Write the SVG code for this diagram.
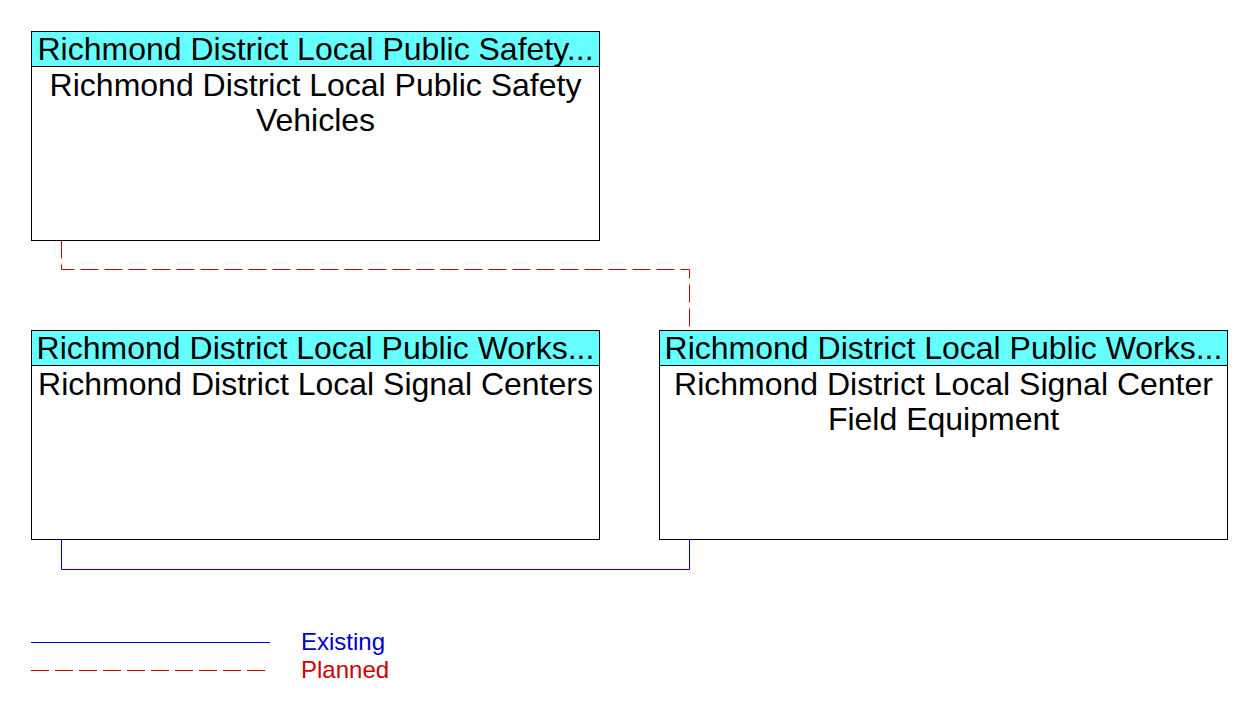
<svg xmlns="http://www.w3.org/2000/svg" width="1252" height="716" viewBox="0 0 1252 716">
<style>
.box{fill:#fff;stroke:#000;stroke-width:1}
.hdr{fill:#66ffff;stroke:#000;stroke-width:1}
.t{font-family:"Liberation Sans",Arial,sans-serif;font-size:32px;fill:#000;text-anchor:middle}
.planned{fill:none;stroke:#cc0000;stroke-width:1;stroke-dasharray:18,6}
.existing{fill:none;stroke:#0000cc;stroke-width:1}
.lg{font-family:"Liberation Sans",Arial,sans-serif;font-size:24px}
</style>
<rect width="1252" height="716" fill="#fff"/>
<g id="connectors">
<polyline class="planned" points="61.5,240.5 61.5,269.5 689.5,269.5 689.5,330.5"/>
<polyline class="existing" points="61.5,539.5 61.5,569.5 689.5,569.5 689.5,539.5"/>
</g>
<g id="node-safety-vehicles">
<rect class="box" x="31.5" y="31.5" width="568" height="209"/>
<rect class="hdr" x="31.5" y="31.5" width="568" height="35"/>
<text class="t" x="315.5" y="60">Richmond District Local Public Safety...</text>
<text class="t" x="315.5" y="96">Richmond District Local Public Safety</text>
<text class="t" x="315.5" y="131">Vehicles</text>
</g>
<g id="node-signal-centers">
<rect class="box" x="31.5" y="330.5" width="568" height="209"/>
<rect class="hdr" x="31.5" y="330.5" width="568" height="35"/>
<text class="t" x="315.5" y="359">Richmond District Local Public Works...</text>
<text class="t" x="315.5" y="395">Richmond District Local Signal Centers</text>
</g>
<g id="node-signal-field-equipment">
<rect class="box" x="659.5" y="330.5" width="568" height="209"/>
<rect class="hdr" x="659.5" y="330.5" width="568" height="35"/>
<text class="t" x="943.5" y="359">Richmond District Local Public Works...</text>
<text class="t" x="943.5" y="395">Richmond District Local Signal Center</text>
<text class="t" x="943.5" y="430">Field Equipment</text>
</g>
<g id="legend">
<line class="existing" x1="31" y1="642.5" x2="270" y2="642.5"/>
<text class="lg" x="301" y="650" fill="#0000cc">Existing</text>
<line class="planned" x1="31" y1="670.5" x2="265" y2="670.5"/>
<text class="lg" x="301" y="678" fill="#cc0000">Planned</text>
</g>
</svg>
